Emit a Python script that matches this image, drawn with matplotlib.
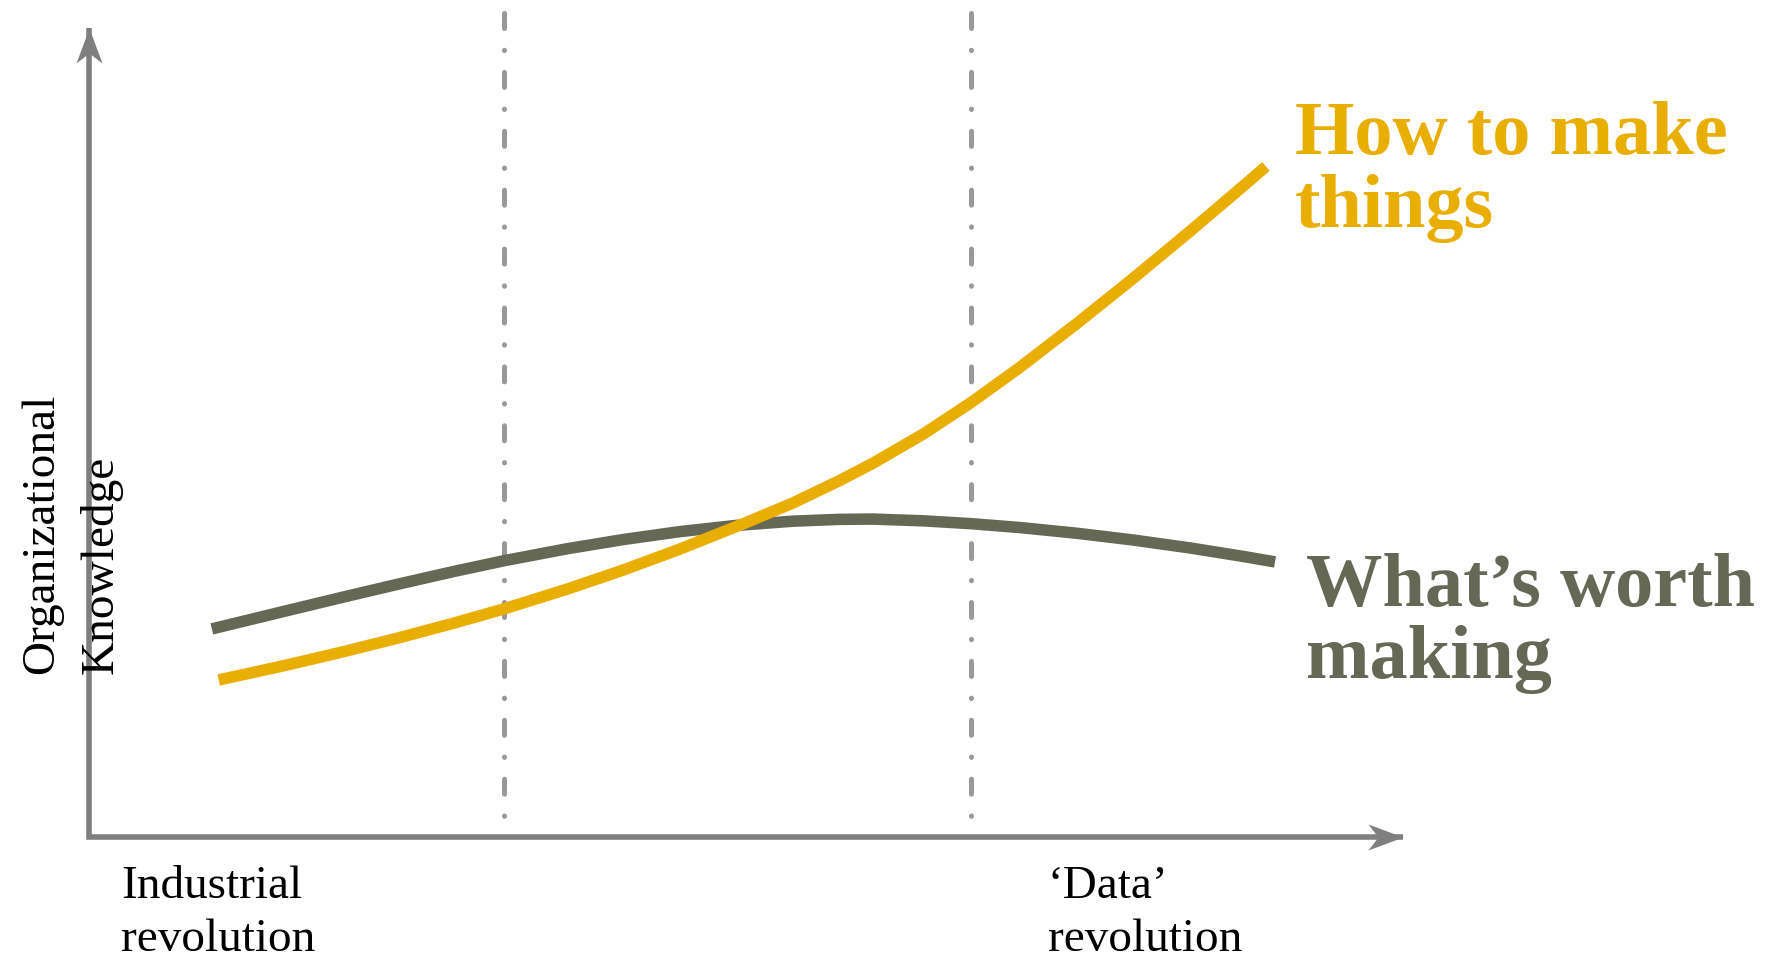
import matplotlib.pyplot as plt
from matplotlib.path import Path

# two curves of organizational knowledge over time (arbitrary units)
how_x = [0.987, 1.479, 1.910, 2.341, 2.773, 3.161, 3.635, 4.066, 4.497, 4.972, 5.360,
         5.705, 5.964, 6.352, 6.714, 7.085, 7.516, 7.947, 8.379, 8.724, 8.957]
how_y = [1.941, 2.116, 2.280, 2.455, 2.642, 2.821, 3.062, 3.300, 3.559, 3.867, 4.131,
         4.400, 4.618, 4.984, 5.372, 5.806, 6.345, 6.906, 7.487, 7.963, 8.288]
worth_x = [0.935, 1.479, 1.910, 2.341, 2.773, 3.161, 3.635, 4.066, 4.497, 4.929, 5.360,
           5.705, 5.964, 6.352, 6.714, 7.085, 7.516, 7.947, 8.379, 8.810, 9.026]
worth_y = [2.572, 2.787, 2.956, 3.121, 3.281, 3.416, 3.562, 3.677, 3.775, 3.852, 3.904,
           3.926, 3.930, 3.908, 3.873, 3.825, 3.755, 3.671, 3.573, 3.461, 3.400]
era_x = [3.16, 6.71]

YELLOW = '#E8AE00'
OLIVE = '#666856'
AXIS = '#7F7F7F'
DASH = '#999999'

W, H = 1777, 960
fig = plt.figure(figsize=(W / 100, H / 100), dpi=100)
ax = fig.add_axes([89 / W, (H - 837) / H, (1403 - 89) / W, (837 - 28) / H])
ax.set_xlim(0, 10)
ax.set_ylim(0, 10)
ax.axis('off')

# axes with arrow heads
ax.plot([0, 0, 10], [10, 0, 0], color=AXIS, lw=4, clip_on=False,
        solid_joinstyle='miter', solid_capstyle='butt', zorder=2)
up = Path([(0, 0), (-13, -35), (0, -25), (13, -35), (0, 0)],
          [Path.MOVETO, Path.LINETO, Path.LINETO, Path.LINETO, Path.CLOSEPOLY])
right = Path([(0, 0), (-35, 13), (-25, 0), (-35, -13), (0, 0)],
             [Path.MOVETO, Path.LINETO, Path.LINETO, Path.LINETO, Path.CLOSEPOLY])
ax.plot([0], [10], marker=up, ms=50.4, color=AXIS, mew=0, clip_on=False, zorder=2)
ax.plot([10], [0], marker=right, ms=50.4, color=AXIS, mew=0, clip_on=False, zorder=2)

# era boundaries (dash-dot, drawn from the top down)
for x in era_x:
    ax.plot([x, x], [10.18, 0], color=DASH, lw=3.6, dashes=(3.0, 4.35, 0.08, 4.35),
            dash_capstyle='round', clip_on=False, zorder=1)

ax.plot(worth_x, worth_y, color=OLIVE, lw=8.3, solid_capstyle='butt',
        solid_joinstyle='round', zorder=3)
ax.plot(how_x, how_y, color=YELLOW, lw=8.3, solid_capstyle='butt',
        solid_joinstyle='round', zorder=4)


def put(x, y, s, **kw):
    fig.text(x / W, 1 - y / H, s, family='Liberation Serif', va='baseline', **kw)


put(1295, 154, 'How to make', size=55, weight='bold', color=YELLOW)
put(1295, 227, 'things', size=55, weight='bold', color=YELLOW)
put(1306, 606, 'What\u2019s worth', size=55, weight='bold', color=OLIVE)
put(1306, 678, 'making', size=55, weight='bold', color=OLIVE)

put(121, 898, 'Industrial', size=34)
put(121, 951, 'revolution', size=34)
put(1048, 898, '\u2018Data\u2019', size=34)
put(1048, 951, 'revolution', size=34)

put(53, 674, 'Organizational', size=34, rotation=90, rotation_mode='anchor')
put(113, 674, 'Knowledge', size=34, rotation=90, rotation_mode='anchor')

fig.savefig('out.png', dpi=100)
